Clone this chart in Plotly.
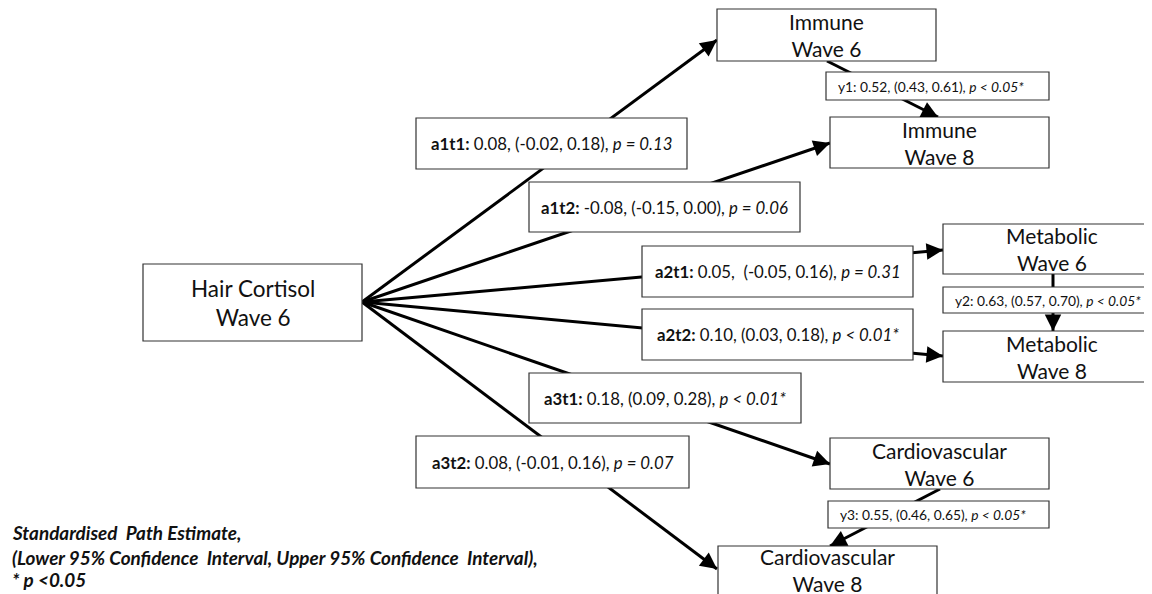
import plotly.graph_objects as go

# ---------------- data ----------------
node_ids = ["hair", "imm6", "imm8", "met6", "met8", "car6", "car8"]
node_labels = ["Hair Cortisol<br>Wave 6", "Immune<br>Wave 6", "Immune<br>Wave 8",
               "Metabolic<br>Wave 6", "Metabolic<br>Wave 8",
               "Cardiovascular<br>Wave 6", "Cardiovascular<br>Wave 8"]

path_ids = ["a1t1", "a1t2", "a2t1", "a2t2", "a3t1", "a3t2"]
path_targets = ["imm6", "imm8", "met6", "met8", "car6", "car8"]
path_est = ["0.08", "-0.08", "0.05", "0.10", "0.18", "0.08"]
path_lo = ["-0.02", "-0.15", "-0.05", "0.03", "0.09", "-0.01"]
path_hi = ["0.18", "0.00", "0.16", "0.18", "0.28", "0.16"]
path_p = ["p = 0.13", "p = 0.06", "p = 0.31", "p < 0.01*", "p < 0.01*", "p = 0.07"]

stab_ids = ["y1", "y2", "y3"]
stab_from = ["imm6", "met6", "car6"]
stab_to = ["imm8", "met8", "car8"]
stab_est = ["0.52", "0.63", "0.55"]
stab_lo = ["0.43", "0.57", "0.46"]
stab_hi = ["0.61", "0.70", "0.65"]
stab_p = ["p < 0.05*", "p < 0.05*", "p < 0.05*"]

footer_lines = ["Standardised  Path Estimate,",
                "(Lower 95% Confidence  Interval, Upper 95% Confidence  Interval),",
                "* p <0.05"]

# ---------------- layout (pixel positions) ----------------
node_box = {  # x0, x1, y0, y1
    "hair": (143, 362, 264, 341),
    "imm6": (717, 936, 9, 61),
    "imm8": (830, 1049, 117, 168),
    "met6": (943, 1161, 224, 274),
    "met8": (943, 1161, 331, 382),
    "car6": (830, 1049, 438, 489),
    "car8": (718, 937, 546, 597),
}
node_text_dy = {"car8": -1.5}
source_pt = (362, 302)
path_tip = {"imm6": (717, 40), "imm8": (830, 143), "met6": (943, 250),
            "met8": (943, 356), "car6": (830, 464), "car8": (717, 569)}
path_box = {
    "a1t1": (416, 687, 118, 169),
    "a1t2": (529, 800, 182, 232),
    "a2t1": (642, 913, 246, 297),
    "a2t2": (642, 913, 309, 360),
    "a3t1": (529, 801, 373, 423),
    "a3t2": (416, 689, 436, 488),
}
stab_line = {"y1": ((827, 61), (938, 117)),
             "y2": ((1053, 274), (1053, 331)),
             "y3": ((940, 489), (830, 546))}
stab_box = {"y1": (826, 1049, 72, 100),
            "y2": (943, 1161, 287, 313),
            "y3": (828, 1049, 501, 528)}
footer_y = [532, 557, 579]

FONT = "Lato"
PAGE_OFFSET = 8  # default body margin of the html page
fig = go.Figure()
annotations = []
shapes = []


def arrowhead(tail, tip):
    dx, dy = tip[0] - tail[0], tip[1] - tail[1]
    n = (dx * dx + dy * dy) ** 0.5
    back = (tip[0] - dx / n * 14, tip[1] - dy / n * 14)
    return dict(x=tip[0], y=tip[1], ax=back[0], ay=back[1], xref="x", yref="y",
                axref="x", ayref="y", text="", showarrow=True, arrowhead=2,
                arrowsize=1.1, arrowwidth=3, arrowcolor="black", standoff=0)


# path lines
for pid, tgt in zip(path_ids, path_targets):
    tip = path_tip[tgt]
    fig.add_trace(go.Scatter(x=[source_pt[0], tip[0]], y=[source_pt[1], tip[1]],
                             mode="lines", line=dict(color="black", width=3),
                             hoverinfo="skip", showlegend=False))
    annotations.append(arrowhead(source_pt, tip))

for sid in stab_ids:
    a, b = stab_line[sid]
    fig.add_trace(go.Scatter(x=[a[0], b[0]], y=[a[1], b[1]], mode="lines",
                             line=dict(color="black", width=3),
                             hoverinfo="skip", showlegend=False))
    annotations.append(arrowhead(a, b))

# node boxes
for nid, lab in zip(node_ids, node_labels):
    x0, x1, y0, y1 = node_box[nid]
    shapes.append(dict(type="rect", x0=x0, x1=x1, y0=y0, y1=y1, xref="x", yref="y",
                       line=dict(color="#333", width=1.2), fillcolor="white", layer="above"))
    annotations.append(dict(x=(x0 + x1) / 2, y=(y0 + y1) / 2 + node_text_dy.get(nid, 0),
                            xref="x", yref="y",
                            text=lab, showarrow=False, xanchor="center", yanchor="middle",
                            font=dict(family=FONT, size=22.5 if nid == "hair" else 21, color="#111")))

# path label boxes
for pid, e, lo, hi, p in zip(path_ids, path_est, path_lo, path_hi, path_p):
    x0, x1, y0, y1 = path_box[pid]
    shapes.append(dict(type="rect", x0=x0, x1=x1, y0=y0, y1=y1, xref="x", yref="y",
                       line=dict(color="#333", width=1.2), fillcolor="white", layer="above"))
    sep = ",&nbsp; " if pid == "a2t1" else ", "
    txt = f"<b>{pid}:</b> {e}{sep}({lo}, {hi}), <i>{p}</i>"
    annotations.append(dict(x=(x0 + x1) / 2, y=(y0 + y1) / 2, xref="x", yref="y",
                            text=txt, showarrow=False, xanchor="center", yanchor="middle",
                            font=dict(family=FONT, size=16.8, color="#111")))

# stability boxes
for sid, e, lo, hi, p in zip(stab_ids, stab_est, stab_lo, stab_hi, stab_p):
    x0, x1, y0, y1 = stab_box[sid]
    shapes.append(dict(type="rect", x0=x0, x1=x1, y0=y0, y1=y1, xref="x", yref="y",
                       line=dict(color="#333", width=1.2), fillcolor="white", layer="above"))
    txt = f"{sid}: {e}, ({lo}, {hi}), <i>{p}</i>"
    annotations.append(dict(x=x0 + 10, y=(y0 + y1) / 2, xref="x", yref="y",
                            text=txt, showarrow=False, xanchor="left", yanchor="middle",
                            font=dict(family=FONT, size=13.8, color="#111")))

# footer
for line, yy in zip(footer_lines, footer_y):
    annotations.append(dict(x=10, y=yy, xref="x", yref="y", text=f"<b><i>{line}</i></b>",
                            showarrow=False, xanchor="left", yanchor="middle",
                            font=dict(family=FONT, size=18.9, color="#111")))

W, H = 1152, 594
fig.update_layout(
    width=W - PAGE_OFFSET, height=H - PAGE_OFFSET,
    margin=dict(l=0, r=0, t=0, b=0),
    paper_bgcolor="white", plot_bgcolor="white",
    xaxis=dict(range=[PAGE_OFFSET, W], visible=False, fixedrange=True),
    yaxis=dict(range=[H, PAGE_OFFSET], visible=False, fixedrange=True),
    shapes=shapes, annotations=annotations,
    showlegend=False,
)
fig.write_html("out.html")
